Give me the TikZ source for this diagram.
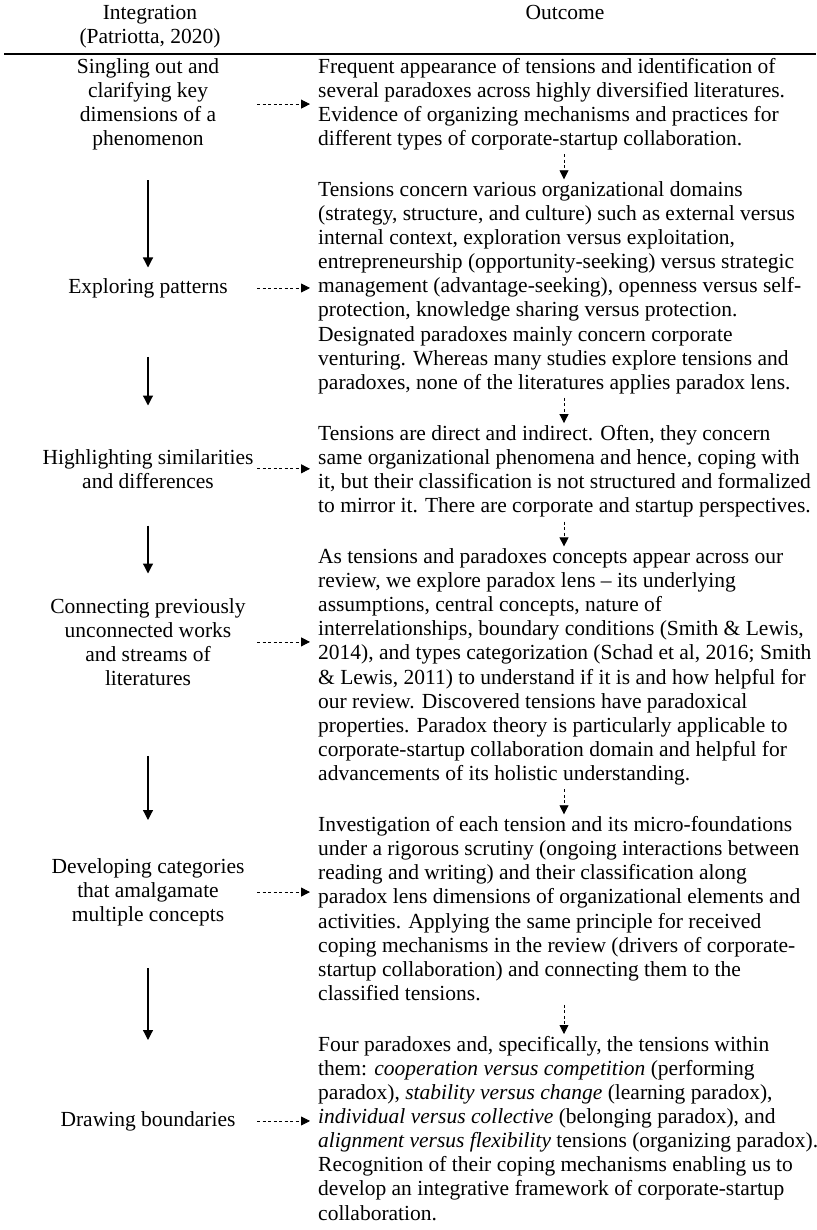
\documentclass[tikz,border=0pt]{standalone}
\usepackage{fontspec}
\setmainfont{Liberation Serif}
\usetikzlibrary{arrows.meta,positioning}
\tikzset{
	txt/.style={inner sep=0pt,font=\fontsize{21.5}{24.1}\selectfont},
	stage/.style={txt,align=center,anchor=north},
	outcome/.style={txt,align=left,anchor=north west},
	flow/.style={-{Triangle[width=10pt,length=10pt]},line width=1.2pt},
	link/.style={-{Triangle[width=9pt,length=9pt]},line width=0.8pt,dash pattern=on 3pt off 2.5pt},
	rule/.style={line width=1.4pt}
}
\begin{document}
\begin{tikzpicture}[x=1pt,y=-1pt]
	\useasboundingbox (0,0) rectangle (816,1230);
	%%% header
	\node[stage] (hint) at (150,5) {Integration\\(Patriotta, 2020)};
	\node[stage] (hout) at (565,5) {Outcome};
	\draw[rule] (4,54) -- (816,54);
	%%% integration steps
	\node[stage] (int1) at (148,58) {Singling out and\\clarifying key\\dimensions of a\\phenomenon};
	\node[stage] (int2) at (148,278) {Exploring patterns};
	\node[stage] (int3) at (148,449) {Highlighting similarities\\and differences};
	\node[stage] (int4) at (148,598) {Connecting previously\\unconnected works\\and streams of\\literatures};
	\node[stage] (int5) at (148,858) {Developing categories\\that amalgamate\\multiple concepts};
	\node[stage] (int6) at (148,1111) {Drawing boundaries};
	%%% outcomes
	\node[outcome] (out1) at (318,58) {Frequent appearance of tensions and identification of\\
		several paradoxes across highly diversified literatures.\\
		Evidence of organizing mechanisms and practices for\\
		different types of corporate-startup collaboration.};
	\node[outcome] (out2) at (318,181.3) {Tensions concern various organizational domains\\
		(strategy, structure, and culture) such as external versus\\
		internal context, exploration versus exploitation,\\
		entrepreneurship (opportunity-seeking) versus strategic\\
		management (advantage-seeking), openness versus self-\\
		protection, knowledge sharing versus protection.\\
		Designated paradoxes mainly concern corporate\\
		venturing. Whereas many studies explore tensions and\\
		paradoxes, none of the literatures applies paradox lens.};
	\node[outcome] (out3) at (318,425.1) {Tensions are direct and indirect. Often, they concern\\
		same organizational phenomena and hence, coping with\\
		it, but their classification is not structured and formalized\\
		to mirror it. There are corporate and startup perspectives.};
	\node[outcome] (out4) at (318,548.4) {As tensions and paradoxes concepts appear across our\\
		review, we explore paradox lens -- its underlying\\
		assumptions, central concepts, nature of\\
		interrelationships, boundary conditions (Smith \& Lewis,\\
		2014), and types categorization (Schad et al, 2016; Smith\\
		\& Lewis, 2011) to understand if it is and how helpful for\\
		our review. Discovered tensions have paradoxical\\
		properties. Paradox theory is particularly applicable to\\
		corporate-startup collaboration domain and helpful for\\
		advancements of its holistic understanding.};
	\node[outcome] (out5) at (318,816.3) {Investigation of each tension and its micro-foundations\\
		under a rigorous scrutiny (ongoing interactions between\\
		reading and writing) and their classification along\\
		paradox lens dimensions of organizational elements and\\
		activities. Applying the same principle for received\\
		coping mechanisms in the review (drivers of corporate-\\
		startup collaboration) and connecting them to the\\
		classified tensions.};
	\node[outcome] (out6) at (318,1036) {Four paradoxes and, specifically, the tensions within\\
		them: \textit{cooperation versus competition} (performing\\
		paradox), \textit{stability versus change} (learning paradox),\\
		\textit{individual versus collective} (belonging paradox), and\\
		\textit{alignment versus flexibility} tensions (organizing paradox).\\
		Recognition of their coping mechanisms enabling us to\\
		develop an integrative framework of corporate-startup\\
		collaboration.};
	%%% step arrows
	\draw[flow] ([yshift=-30pt]int1.south) -- ([yshift=10.5pt]int2.north);
	\draw[flow] ([yshift=-59pt]int2.south) -- ([yshift=43.5pt]int3.north);
	\draw[flow] ([yshift=-37pt]int3.south) -- ([yshift=24.5pt]int4.north);
	\draw[flow] ([yshift=-70pt]int4.south) -- ([yshift=38pt]int5.north);
	\draw[flow] ([yshift=-42pt]int5.south) -- ([yshift=71pt]int6.north);
	%%% step to outcome
	\foreach \i in {1,...,6}
		\draw[link] (int\i -| out\i.west) ++(-61,0) -- ++(53,0);
	%%% outcome to outcome
	\foreach \i/\j in {1/2,2/3,3/4,4/5,5/6}
		\draw[link] ([xshift=-1pt,yshift=-4pt]out\i.south -| hout) -- ([xshift=-1pt,yshift=2pt]out\j.north -| hout);
\end{tikzpicture}
\end{document}
